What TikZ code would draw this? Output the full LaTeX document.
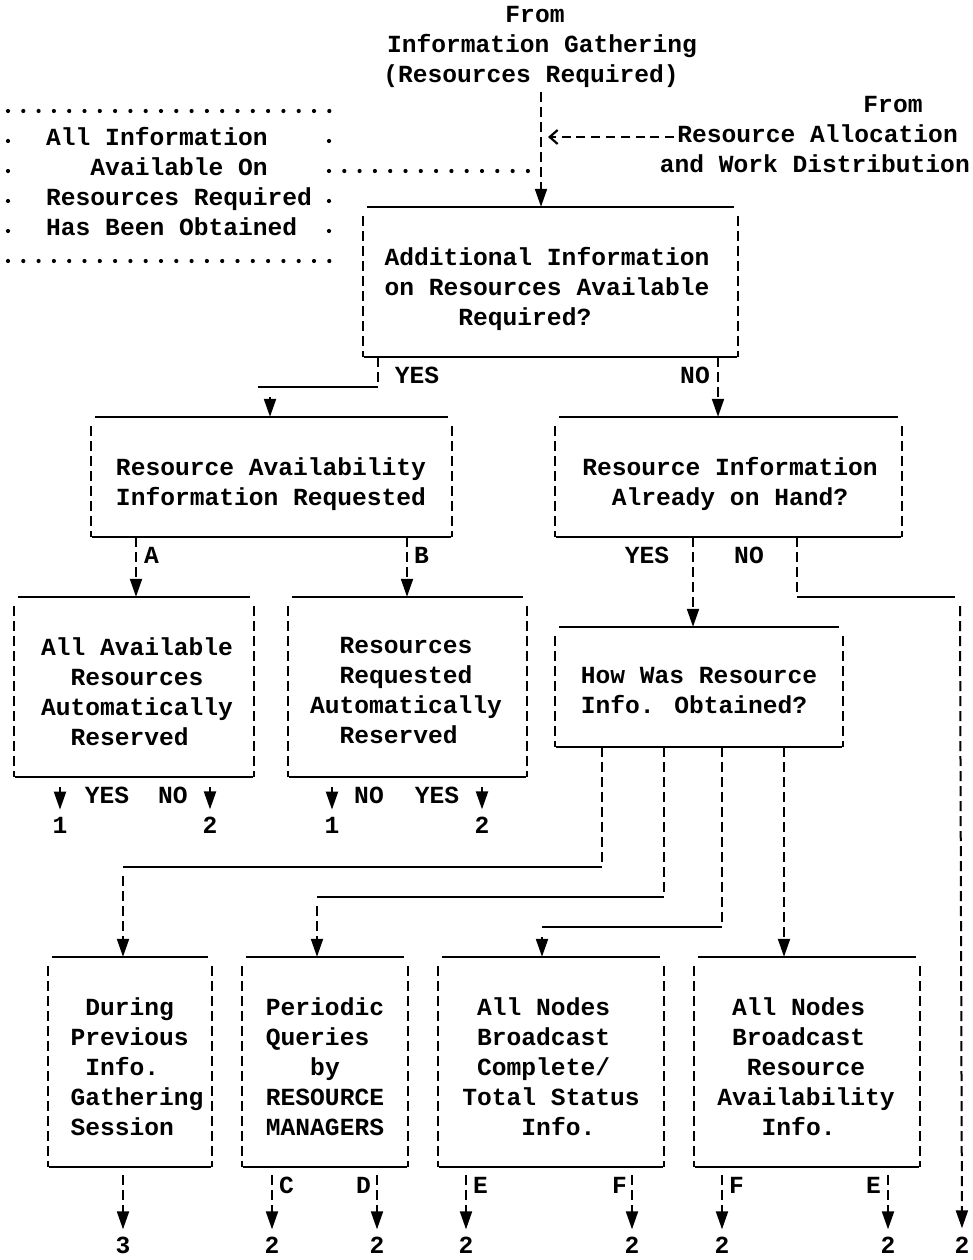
\documentclass[tikz,border=0pt]{standalone}
\usepackage{fontspec}
\newfontfamily\typew{Liberation Mono}
\usetikzlibrary{arrows.meta}
% strut giving every first line the same height (16pt) and depth (7pt)
\newcommand\rowstrut{\rule[-7pt]{0pt}{23pt}}
% typewriter-style frame: solid top and bottom rules, broken bars at the sides
\newcommand\tbframe[1]{%
  \draw[uline] ([xshift=4pt]#1.north west) -- ([xshift=-4pt]#1.north east);
  \draw[uline] ([xshift=1pt]#1.south west) -- ([xshift=-1pt]#1.south east);
  \draw[bar] ([yshift=-9pt]#1.north west) -- (#1.south west);
  \draw[bar] ([yshift=-9pt]#1.north east) -- (#1.south east);}
\tikzset{
  tw/.style={font=\typew\bfseries\fontsize{24.6pt}{30pt}\selectfont, inner sep=0pt},
  txt/.style={tw, align=center, anchor=north},
  txtl/.style={tw, align=left, anchor=north},
  lbl/.style={tw, anchor=base},
  frame/.style={draw=none, inner sep=0pt, rectangle},
  uline/.style={line width=2.2pt},
  bar/.style={line width=2pt, dash pattern=on 10pt off 5pt},
  hy/.style={line width=2.2pt, dash pattern=on 9pt off 5.8pt},
  dots/.style={line width=4.2pt, line cap=round, dash pattern=on 0pt off 15.3pt},
  tip/.style={-{Triangle[length=18pt,width=12pt]}},
  headonly/.style={tip, uline, shorten <=10pt},
}
\begin{document}
\begin{tikzpicture}[x=1pt,y=-1pt]
\fill[white] (0,0) rectangle (972,1260);
\useasboundingbox (0,0) rectangle (972,1260);

% ---------- incoming texts ----------
\node[lbl] (srcA) at (535,23) {From};
\node[lbl] (srcB) at (542,53) {Information Gathering};
\node[lbl] (src)  at (531,83) {(Resources Required)};
\node[lbl] (rfrom) at (893,113) {From};
\node[lbl, anchor=base east] (ra) at (958,143) {Resource Allocation};
\node[lbl, anchor=base east] (rb) at (970,173) {and Work Distribution};

% ---------- dotted note ----------
\node[txtl, anchor=north west] (note) at (46,127)
  {\rowstrut All Information\\~~~Available On\\Resources Required\\Has Been Obtained};
\coordinate (dnw) at (8,111);  \coordinate (dne) at (330,111);
\coordinate (dsw) at (8,261);  \coordinate (dse) at (330,261);
\coordinate (dc)  at (329,171);
\draw[dots] (dnw) -- (dne);
\draw[dots] (dsw) -- (dse);
\draw[dots, dash pattern=on 0pt off 30pt] (8,141) -- (8,236);
\draw[dots, dash pattern=on 0pt off 30pt] (329,141) -- (329,236);

% ---------- boxes (frames) ----------
\node[frame, minimum width=375pt, minimum height=150pt] (b1) at (550.5,282) {};
\node[frame, minimum width=361pt, minimum height=120pt] (b2) at (271.5,477) {};
\node[frame, minimum width=347pt, minimum height=120pt] (b3) at (728.5,477) {};
\node[frame, minimum width=240pt, minimum height=180pt] (b4) at (134,687) {};
\node[frame, minimum width=239pt, minimum height=180pt] (b5) at (407.5,687) {};
\node[frame, minimum width=288pt, minimum height=120pt] (b6) at (699,687) {};
\node[frame, minimum width=164pt, minimum height=210pt] (b7) at (130,1062) {};
\node[frame, minimum width=166pt, minimum height=210pt] (b8) at (325,1062) {};
\node[frame, minimum width=226pt, minimum height=210pt] (b9) at (551,1062) {};
\node[frame, minimum width=226pt, minimum height=210pt] (b10) at (807,1062) {};
\foreach \b in {b1,b2,b3,b4,b5,b6,b7,b8,b9,b10}{\tbframe{\b}}

% ---------- box texts ----------
\node[txtl] (t1) at (547,247)
  {\rowstrut Additional Information\\on Resources Available\\~~~~~Required?};
\node[txt] (t2) at (271,457) {\rowstrut Resource Availability\\Information Requested};
\node[txt] (t3) at (730,457) {\rowstrut Resource Information\\Already on Hand?};
\node[txtl] (t4) at (137,637)
  {\rowstrut All Available\\~~Resources\\Automatically\\~~Reserved};
\node[txtl] (t5) at (406,637)
  {\rowstrut ~~Resources\\~~Requested\\Automatically\\~~Reserved};
\node[txtl] (t6) at (699,667) {\rowstrut How Was Resource\\Info. Obtained?};
\node[txtl] (t7) at (137,997)
  {\rowstrut ~During\\Previous\\~Info.\\Gathering\\Session};
\node[txtl] (t8) at (325,997)
  {\rowstrut Periodic\\Queries\\~~~by\\RESOURCE\\MANAGERS};
\node[txtl] (t9) at (551,997)
  {\rowstrut ~All Nodes\\~Broadcast\\~Complete/\\Total Status\\~~~~Info.};
\node[txtl] (t10) at (806,997)
  {\rowstrut ~All Nodes\\~Broadcast\\~~Resource\\Availability\\~~~Info.};

% ---------- branch labels ----------
\node[lbl] (l1y) at (417,383) {YES};
\node[lbl] (l1n) at (695,383) {NO};
\node[lbl, anchor=base west] (lA) at (144,563) {A};
\node[lbl, anchor=base west] (lB) at (414,563) {B};
\node[lbl] (l3y) at (647,563) {YES};
\node[lbl] (l3n) at (749,563) {NO};
\node[lbl] (l4y) at (107,803) {YES};
\node[lbl] (l4n) at (173,803) {NO};
\node[lbl] (l5n) at (369,803) {NO};
\node[lbl] (l5y) at (437,803) {YES};
\node[lbl, anchor=base west] (lC)  at (279,1193) {C};
\node[lbl, anchor=base east] (lD)  at (371,1193) {D};
\node[lbl, anchor=base west] (lE1) at (473,1193) {E};
\node[lbl, anchor=base east] (lF1) at (627,1193) {F};
\node[lbl, anchor=base west] (lF2) at (729,1193) {F};
\node[lbl, anchor=base east] (lE2) at (881,1193) {E};

% ---------- exit numbers ----------
\node[lbl] (o41) at (60,833)  {1};
\node[lbl] (o42) at (210,833) {2};
\node[lbl] (o51) at (332,833) {1};
\node[lbl] (o52) at (482,833) {2};
\node[lbl] (o7)  at (123,1253) {3};
\node[lbl] (o8c) at (272,1253) {2};
\node[lbl] (o8d) at (377,1253) {2};
\node[lbl] (o9e) at (466,1253) {2};
\node[lbl] (o9f) at (632,1253) {2};
\node[lbl] (o10f) at (722,1253) {2};
\node[lbl] (o10e) at (888,1253) {2};
\node[lbl] (o3n) at (962,1253) {2};

% ---------- connectors ----------
\coordinate (mx) at (541,0);
\draw[bar, tip] ([yshift=-4pt]src.south -| mx) -- (b1.north -| mx);
\coordinate (rain) at (548,137);
\draw[hy, -{Straight Barb[length=8pt,width=14pt]}] ([xshift=-3pt]ra.west |- rain) -- (rain);
\draw[dots] ([xshift=15.3pt]dc) -- (dc -| mx);

% box 1: YES / NO
\coordinate (y1) at (378,387);  \coordinate (y1l) at (258,387);
\coordinate (ya) at (270,387);
\draw[bar] (b1.south -| y1) -- (y1);
\draw[uline] (y1) -- (y1l);
\draw[headonly] (ya) -- (b2.north -| ya);
\coordinate (n1) at (718,0);
\draw[bar, tip] (b1.south -| n1) -- (b3.north -| n1);

% box 2: A / B
\coordinate (ax) at (136,0);  \coordinate (bx) at (407,0);
\draw[bar, tip] (b2.south -| ax) -- (b4.north -| ax);
\draw[bar, tip] (b2.south -| bx) -- (b5.north -| bx);

% box 3: YES / NO
\coordinate (yx) at (693,0);
\draw[bar, tip] (b3.south -| yx) -- (b6.north -| yx);
\coordinate (nc) at (797,597);  \coordinate (rc) at (960,597);
\draw[bar] (b3.south -| nc) -- (nc);
\draw[uline] (nc) -- ([xshift=-5pt]rc);
\draw[bar, tip, shorten >=8pt] ([yshift=-9pt]rc) -- (o3n.north);

% boxes 4 and 5 exits
\foreach \o/\b in {o41/b4,o42/b4,o51/b5,o52/b5}
  \draw[uline, tip, shorten <=10pt, shorten >=7pt] (\b.south -| \o) -- (\o.north);

% box 6 exits
\coordinate (h1) at (602,867);  \coordinate (h1e) at (123,867);
\coordinate (h2) at (664,897);  \coordinate (h2e) at (317,897);
\coordinate (h3) at (722,927);  \coordinate (h3e) at (542,927);
\coordinate (h4) at (784,0);
\draw[bar] (b6.south -| h1) -- (h1);
\draw[uline] (h1) -- (h1e);
\draw[bar, tip] ([yshift=-9pt]h1e) -- (b7.north -| h1e);
\draw[bar] (b6.south -| h2) -- (h2);
\draw[uline] (h2) -- (h2e);
\draw[bar, tip] ([yshift=-9pt]h2e) -- (b8.north -| h2e);
\draw[bar] (b6.south -| h3) -- (h3);
\draw[uline] (h3) -- (h3e);
\draw[headonly] (h3e) -- (b9.north -| h3e);
\draw[bar, tip] (b6.south -| h4) -- (b10.north -| h4);

% boxes 7 to 10 exits
\foreach \o/\b in {o7/b7,o8c/b8,o8d/b8,o9e/b9,o9f/b9,o10f/b10,o10e/b10}
  \draw[bar, tip, shorten <=8pt, shorten >=7pt] (\b.south -| \o) -- (\o.north);
\end{tikzpicture}
\end{document}
